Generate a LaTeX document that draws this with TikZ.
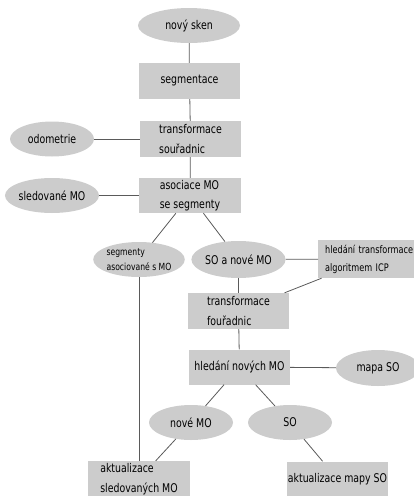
\documentclass[tikz,border=0pt]{standalone}
\usepackage{fontspec}
\setmainfont{DejaVu Sans Condensed}[FakeStretch=0.87]
\usetikzlibrary{shapes.geometric}
\definecolor{boxgray}{RGB}{204,204,204}
\definecolor{linegray}{RGB}{90,90,90}

\begin{document}
\begin{tikzpicture}[x=1pt,y=-1pt,
  box/.style={rectangle,fill=boxgray,minimum width=101pt,minimum height=36pt,inner sep=1pt,align=left,font=\fontsize{12}{19.5}\selectfont},
  blob/.style={ellipse,fill=boxgray,minimum width=84pt,minimum height=35pt,inner sep=0pt,align=left,font=\fontsize{12}{19.5}\selectfont},
  small/.style={font=\fontsize{9.8}{15}\selectfont},
  link/.style={draw=linegray,line width=0.8pt}]
\useasboundingbox (0,0) rectangle (414,496);

\node[blob,minimum width=102pt] (sken) at (189,25.5) {nový sken};
\node[box] (seg) at (189.5,81) {segmentace};
\node[box] (trans) at (190.5,139) {transformace\\souřadnic};
\node[blob] (odo) at (52,139) {odometrie};
\node[box,minimum width=102pt,minimum height=35pt] (asoc) at (190,195.5) {asociace MO\\se segmenty};
\node[blob] (sled) at (52,195.5) {sledované MO};

\node[blob,small,minimum width=83pt] (segasoc) at (139,259.5) {segmenty\\asociované s MO};
\node[box,anchor=west,minimum width=104pt,minimum height=38pt,inner xsep=4pt,text width=90pt,font=\fontsize{10.4}{18}\selectfont] (icp) at (318,259) {hledání transformace\\algoritmem ICP};
\node[blob,minimum width=87pt,minimum height=37pt] (sonove) at (238.5,259.5) {SO a nové MO};
\node[box] (trans2) at (238.5,311) {transformace\\fouřadnic};

\node[box,minimum height=35pt] (hledani) at (239.5,367) {hledání nových MO};
\node[blob,minimum height=36pt] (mapa) at (378,368) {mapa SO};
\node[blob] (novemo) at (191,422.5) {nové MO};
\node[blob] (so) at (290,422.5) {SO};
\node[box,minimum width=102pt] (aktsled) at (139,479) {aktualizace\\sledovaných MO};
\node[box,minimum height=35pt] (aktmapa) at (337.5,479) {aktualizace mapy SO};

% spojnice
\draw[link] (sken) -- (seg);
\draw[link] (seg) -- (trans);
\draw[link] (odo) -- (trans);
\draw[link] (trans) -- (asoc);
\draw[link] (sled) -- (asoc);
\draw[link] (asoc) -- (segasoc);
\draw[link] (asoc) -- (sonove);
\draw[link] (sonove) -- (icp);
\draw[link] (icp) -- (trans2);
\draw[link] (sonove) -- (trans2);
\draw[link] (trans2) -- (hledani);
\draw[link] (hledani) -- (mapa);
\draw[link] (hledani) -- (novemo);
\draw[link] (hledani) -- (so);
\draw[link] (novemo) -- (aktsled);
\draw[link] (so) -- (aktmapa);
\draw[link] (segasoc) -- (aktsled);

\end{tikzpicture}
\end{document}
